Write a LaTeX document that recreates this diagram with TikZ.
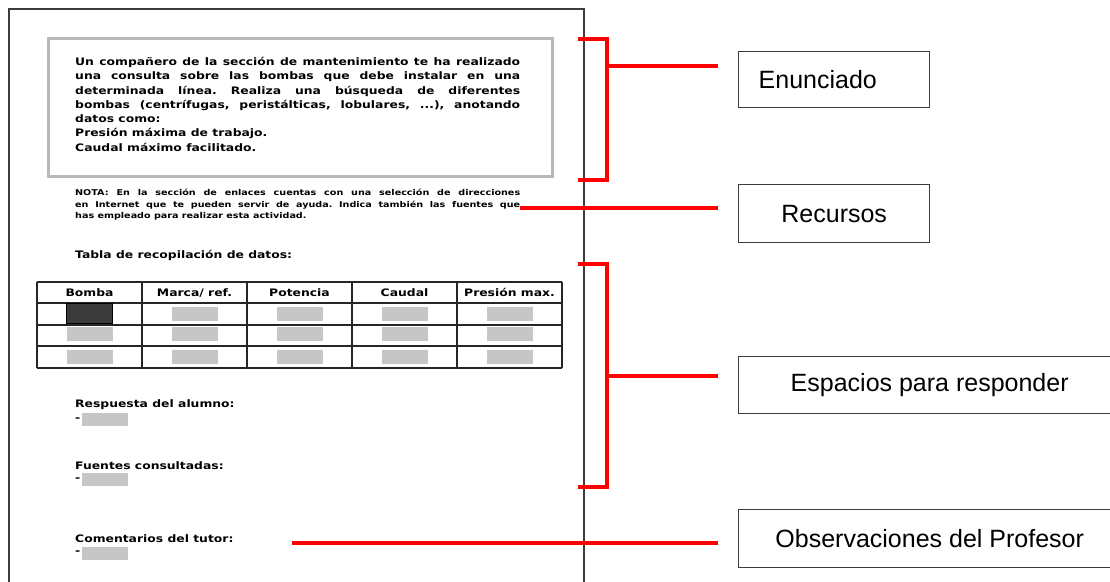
\documentclass[tikz,border=0pt]{standalone}
\usepackage{fontspec}
\setmainfont{Liberation Sans}
\newfontfamily\docfont[FakeStretch=1.2]{DejaVu Sans}
\usetikzlibrary{positioning}
\frenchspacing

\definecolor{marco}{HTML}{3C3C3C}
\definecolor{celda}{HTML}{C6C6C6}
\definecolor{recuadro}{HTML}{B8B8B8}
\definecolor{oscuro}{HTML}{3A3A3A}

\tikzset{
  etiqueta/.style={draw=marco, line width=1.4pt, inner sep=0pt,
    font=\fontsize{25}{29}\selectfont},
  llave/.style={red, line width=4pt},
  hueco/.style={fill=celda, minimum width=46pt, minimum height=14pt, inner sep=0pt},
  doc/.style={font=\docfont\bfseries\fontsize{10.3}{14.3}\selectfont, inner sep=0pt},
  nota/.style={font=\docfont\bfseries\fontsize{8}{11.6}\selectfont, inner sep=0pt},
  tabla/.style={black!85, line width=1.3pt},
}

\begin{document}
\begin{tikzpicture}[x=1pt,y=-1pt]
\useasboundingbox (0,0) rectangle (1110,581);

% la hoja
\draw[marco, line width=1.3pt] (9,590) -- (9,9) -- (584,9) -- (584,590);

% enunciado
\draw[recuadro, line width=3pt, fill=white] (48,38) rectangle (552,176);
\node[doc, anchor=north west, text width=445pt, align=justify] (texto) at (75,57)
  {Un compañero de la sección de mantenimiento te ha realizado\linebreak
   una consulta sobre las bombas que debe instalar en una\linebreak
   determinada línea. Realiza una búsqueda de diferentes\linebreak
   bombas (centrífugas, peristálticas, lobulares, ...), anotando\linebreak
   datos como:\\
   Presión máxima de trabajo.\\
   Caudal máximo facilitado.};

% recursos
\node[nota, anchor=north west, text width=445pt, align=justify] (notas) at (75,189)
  {NOTA: En la sección de enlaces cuentas con una selección de direcciones\linebreak
   en Internet que te pueden servir de ayuda. Indica también las fuentes que\linebreak
   has empleado para realizar esta actividad.};

% tabla
\node[doc, anchor=west] (titulo) at (75,255) {Tabla de recopilación de datos:};
\foreach \x in {37,142,247,352,457,562}
  \draw[tabla] (\x,282) -- (\x,368);
\foreach \y in {282,303,325,346,368}
  \draw[tabla] (37,\y) -- (562,\y);
\foreach \t [count=\i] in {Bomba, Marca/ ref., Potencia, Caudal, Presión max.}
  \node[doc, anchor=base] (cab\i) at ({105*\i-15.5},296.5) {\t};
\foreach \f/\yc in {1/314,2/334,3/357}
  \foreach \i in {1,...,5}
    \node[hueco] (c\f\i) at ({105*\i-15.5},\yc) {};
\node[hueco, fill=oscuro, draw=black, line width=0.8pt, minimum height=20pt] (bomba1) at (89.5,313) {};

% respuestas
\node[doc, anchor=west] (resp) at (75,405) {Respuesta del alumno:};
\node[doc, anchor=west] (guion1) at (75,419.5) {-};
\node[hueco, minimum height=13pt, right=1.5pt of guion1] (resp1) {};
\node[doc, anchor=west] (fuentes) at (75,466) {Fuentes consultadas:};
\node[doc, anchor=west] (guion2) at (75,479.5) {-};
\node[hueco, minimum height=13pt, right=1.5pt of guion2] (fuentes1) {};
\node[doc, anchor=west] (coment) at (75,539) {Comentarios del tutor:};
\node[doc, anchor=west] (guion3) at (75,553) {-};
\node[hueco, minimum height=13pt, right=1.5pt of guion3] (coment1) {};

% etiquetas
\node[etiqueta, anchor=north west, text width=151pt, align=left, inner xsep=20pt,
  minimum height=56pt] (enunciado) at (738,51) {Enunciado};
\node[etiqueta, anchor=north west, minimum width=191pt, minimum height=58pt]
  (recursos) at (738,184) {Recursos};
\node[etiqueta, anchor=north west, minimum width=382pt, minimum height=57pt]
  (espacios) at (738,356) {Espacios para responder};
\node[etiqueta, anchor=north west, minimum width=382pt, minimum height=58pt]
  (observ) at (738,509) {Observaciones del Profesor};

% llaves y lineas rojas
\coordinate (llave1) at (607,66);
\coordinate (llave2) at (607,376);
\coordinate (notafin) at (520,208);
\coordinate (tutor) at (292,543);
\draw[llave] (578,39) -- (607,39) -- (607,180) -- (578,180);
\draw[llave] (578,264) -- (607,264) -- (607,487) -- (578,487);
\draw[llave, shorten >=20pt] (llave1) -- (llave1 -| enunciado.west);
\draw[llave, shorten >=20pt] (notafin) -- (notafin -| recursos.west);
\draw[llave, shorten >=20pt] (llave2) -- (llave2 -| espacios.west);
\draw[llave, shorten >=20pt] (tutor) -- (tutor -| observ.west);
\end{tikzpicture}
\end{document}
